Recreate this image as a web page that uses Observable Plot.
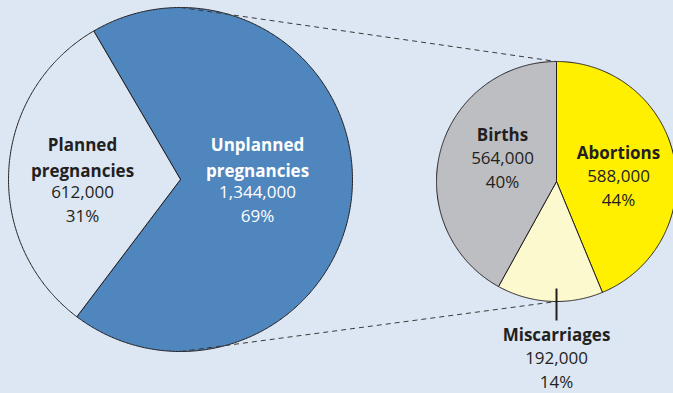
<!DOCTYPE html>
<html>
<head>
<meta charset="utf-8">
<script src="https://cdn.jsdelivr.net/npm/d3@7"></script>
<script src="https://cdn.jsdelivr.net/npm/@observablehq/plot@0.6"></script>
<style>
  html, body { margin: 0; padding: 0; background: #dce7f3; }
  #chart svg { display: block; }
</style>
</head>
<body>
<div id="chart"></div>
<script>
// ---- data ----
const bigCategories = ["Unplanned pregnancies", "Planned pregnancies"];
const bigNames = [["Unplanned", "pregnancies"], ["Planned", "pregnancies"]];
const bigValues = [1344000, 612000];
const bigPercents = ["69%", "31%"];
const bigColors = ["#4f86be", "#dce7f3"];
const bigTextColors = ["#ffffff", "#231f20"];

const smallCategories = ["Abortions", "Miscarriages", "Births"];
const smallValues = [588000, 192000, 564000];
const smallPercents = ["44%", "14%", "40%"];
const smallColors = ["#fff000", "#fdf9cf", "#bdbec2"];

// ---- layout ----
const W = 673, H = 393;
const big = {cx: 180, cy: 179, r: 172, start: -30.3};
const small = {cx: 556, cy: 181, r: 120, start: 0};
// label anchors (first line position)
const bigLabelPos = [{x: 257, y: 145}, {x: 82, y: 145}];
const smallLabelPos = [{x: 618, y: 153}, {x: 556, y: 335}, {x: 502, y: 135}];
const fmt = d3.format(",");

function wedges(pie, values, colors, key) {
  const total = d3.sum(values);
  let a0 = pie.start;
  const pts = [];
  values.forEach((v, i) => {
    const a1 = a0 + v / total * 360;
    const id = key + i;
    pts.push({id, x: pie.cx, y: pie.cy, fill: colors[i]});
    const n = Math.max(2, Math.ceil(a1 - a0) * 2);
    for (let k = 0; k <= n; k++) {
      const a = (a0 + (a1 - a0) * k / n) * Math.PI / 180;
      pts.push({id, x: pie.cx + pie.r * Math.sin(a), y: pie.cy - pie.r * Math.cos(a), fill: colors[i]});
    }
    pts.push({id, x: pie.cx, y: pie.cy, fill: colors[i]});
    a0 = a1;
  });
  return pts;
}

const wedgePts = [
  ...wedges(big, bigValues, bigColors, "b"),
  ...wedges(small, smallValues, smallColors, "s")
];

// labels
const boldRows = [], regRows = [];
bigCategories.forEach((c, i) => {
  const p = bigLabelPos[i];
  bigNames[i].forEach((t, k) => boldRows.push({x: p.x, y: p.y + k * 26, text: t, fill: bigTextColors[i]}));
  regRows.push({x: p.x, y: p.y + 47, text: fmt(bigValues[i]), fill: bigTextColors[i]});
  regRows.push({x: p.x, y: p.y + 71, text: bigPercents[i], fill: bigTextColors[i]});
});
smallCategories.forEach((c, i) => {
  const p = smallLabelPos[i];
  boldRows.push({x: p.x, y: p.y, text: c, fill: "#231f20"});
  regRows.push({x: p.x, y: p.y + 23.5, text: fmt(smallValues[i]), fill: "#231f20"});
  regRows.push({x: p.x, y: p.y + 47, text: smallPercents[i], fill: "#231f20"});
});

const connectors = [
  {x1: big.cx, y1: big.cy - big.r, x2: small.cx, y2: small.cy - small.r},
  {x1: big.cx, y1: big.cy + big.r, x2: small.cx, y2: small.cy + small.r}
];
const leader = [{x1: small.cx, y1: small.cy + small.r - 13, x2: small.cx, y2: small.cy + small.r + 19}];

const chart = Plot.plot({
  width: W, height: H,
  margin: 0,
  x: {domain: [0, W], range: [0, W], axis: null},
  y: {domain: [0, H], range: [0, H], axis: null},
  color: {type: "identity"},
  style: {background: "#dce7f3", fontFamily: "'Open Sans', sans-serif"},
  marks: [
    Plot.line(wedgePts, {x: "x", y: "y", z: "id", fill: "fill", stroke: "#231f20", strokeWidth: 1, strokeLinejoin: "round"}),
    Plot.link(connectors, {x1: "x1", y1: "y1", x2: "x2", y2: "y2", stroke: "#3a3a3a", strokeWidth: 1, strokeDasharray: "5,4"}),
    Plot.link(leader, {x1: "x1", y1: "y1", x2: "x2", y2: "y2", stroke: "#231f20", strokeWidth: 2}),
    Plot.text(boldRows, {x: "x", y: "y", text: "text", fill: "fill", fontSize: 17, fontWeight: "bold", textAnchor: "middle"}),
    Plot.text(regRows, {x: "x", y: "y", text: "text", fill: "fill", fontSize: 17, textAnchor: "middle"})
  ]
});
document.getElementById("chart").appendChild(chart);
</script>
</body>
</html>
